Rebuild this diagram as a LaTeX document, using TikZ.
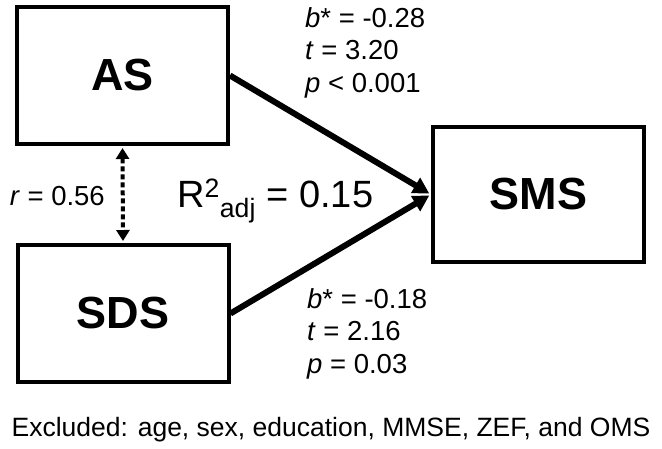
\documentclass[tikz,border=0pt]{standalone}
\usepackage{fontspec}
\setmainfont{Liberation Sans}
\usetikzlibrary{arrows.meta}

\begin{document}
\begin{tikzpicture}[x=1pt,y=-1pt]
  \tikzstyle{bloc}=[draw, line width=4pt, minimum width=211pt, minimum height=137pt, inner sep=0, font=\fontsize{45}{54}\selectfont\bfseries];
  \tikzstyle{stat}=[inner sep=0, align=left, font=\fontsize{27.5}{32.5}\selectfont];
  \tikzstyle{effet}=[line width=6pt, -{Triangle[length=16pt,width=17pt]}, shorten >=2pt];
  \tikzstyle{corr}=[line width=4pt, dash pattern=on 5pt off 3pt, {Triangle[length=11pt,width=13pt]}-{Triangle[length=11pt,width=13pt]}, shorten <=2pt, shorten >=2pt];

  \useasboundingbox (0,0) rectangle (662,448);

  \node[bloc] (as) at (122.5,75.5) {AS};
  \node[bloc] (sds) at (123,313.5) {SDS};
  \node[bloc, minimum height=135pt] (sms) at (538.5,194.5) {SMS};

  \draw[effet] (as.east) -- (sms.west);
  \draw[effet] (sds.east) -- (sms.west);
  \draw[corr] (as.south) -- (sds.north);

  \node[stat, anchor=north west] (haut) at (305,7) {\textit{b}* = -0.28\\\textit{t} = 3.20\\\textit{p} < 0.001};
  \node[stat, anchor=north west] (bas) at (307,288) {\textit{b}* = -0.18\\\textit{t} = 2.16\\\textit{p} = 0.03};
  \node[stat, anchor=base east] (r) at (105,205) {\textit{r} = 0.56};
  \node[inner sep=0, anchor=base west, font=\fontsize{38}{46}\selectfont] (rdeux) at (177,207) {R\textsuperscript{2}\textsubscript{adj} = 0.15};
  \node[stat, anchor=base, font=\fontsize{26.5}{32}\selectfont] (exclu) at (331,436) {Excluded: age, sex, education, MMSE, ZEF, and OMS};
\end{tikzpicture}
\end{document}
